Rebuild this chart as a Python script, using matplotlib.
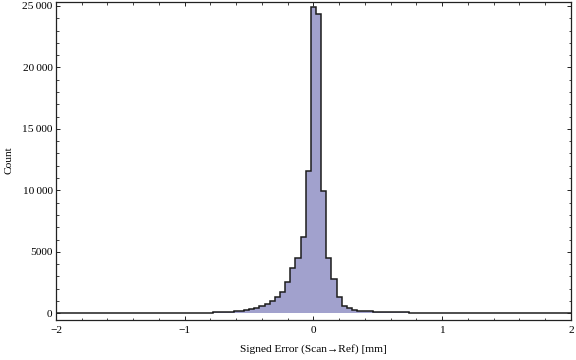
import numpy as np
import matplotlib
matplotlib.use("Agg")
import matplotlib.pyplot as plt
from matplotlib.ticker import MultipleLocator, FuncFormatter

plt.rcParams['font.family'] = ['Liberation Serif', 'DejaVu Serif']
plt.rcParams['font.size'] = 8.2

# Histogram of signed errors, bin width 0.04 mm, first bin starts at -2.02
bin_start = -2.02
bin_width = 0.04

# counts, bins -2.02 ... -0.82 (nearly empty left tail)
left_tail = [2, 2, 2, 3, 3, 3, 3, 3, 4, 4, 4, 5, 5, 5, 6, 6,
             7, 7, 8, 8, 9, 10, 11, 12, 14, 16, 18, 22, 28, 40, 60]
# counts, bins -0.78 ... 0.42
core = [80, 90, 100, 120, 160, 200, 270, 375, 460, 580, 720, 1010,
        1300, 1710, 2570, 3710, 4500, 6180, 11600, 24900, 24330, 9970,
        4525, 2780, 1300, 570, 390, 270, 200, 190, 180]
# counts, bins 0.46 ... 1.98 (long right tail)
right_tail = [130, 110, 95, 88, 82, 78, 72, 60, 52, 48, 45, 42, 40, 38,
              36, 34, 33, 32, 31, 30, 29, 28, 27, 26, 25, 25, 24, 23, 23,
              22, 22, 21, 21, 20, 20, 19, 19, 18, 18]

counts = np.array(left_tail + core + right_tail, dtype=float)
edges = bin_start + bin_width * np.arange(len(counts) + 1)

fig = plt.figure(figsize=(5.76, 3.6), dpi=100)
ax = fig.add_axes([0.0972, 0.1125, 0.894, 0.8828])

ax.stairs(counts, edges, fill=True, color='#a1a1cd', baseline=0)
ax.stairs(counts, edges, fill=False, color='#1c1c1c', linewidth=1.1, baseline=0)

ax.set_xlim(-2, 2)
ax.set_ylim(-505, 25350)

ax.xaxis.set_major_locator(MultipleLocator(1))
ax.xaxis.set_minor_locator(MultipleLocator(0.2))
ax.yaxis.set_major_locator(MultipleLocator(5000))
ax.yaxis.set_minor_locator(MultipleLocator(1000))


def fmt_count(v, pos):
    v = int(round(v))
    if v >= 10000:
        s = f"{v:,}".replace(",", "\u2009")
        return s
    return str(v)


ax.yaxis.set_major_formatter(FuncFormatter(fmt_count))
ax.xaxis.set_major_formatter(FuncFormatter(lambda v, p: f"{int(round(v))}".replace("-", "\u2212")))

ax.tick_params(which='both', direction='in', top=True, right=True, color='#222222')
ax.tick_params(which='major', length=3.0, width=0.7)
ax.tick_params(which='minor', length=1.8, width=0.6)
ax.tick_params(axis='x', pad=5)
ax.tick_params(axis='y', pad=2.5)
ax.tick_params(labeltop=False, labelright=False)

for sp in ax.spines.values():
    sp.set_linewidth(0.9)
    sp.set_color('#222222')

ax.set_xlabel("Signed Error (Scan\u2192Ref) [mm]", labelpad=6)
ax.set_ylabel("Count", labelpad=6)

fig.savefig("out.png", dpi=100)
